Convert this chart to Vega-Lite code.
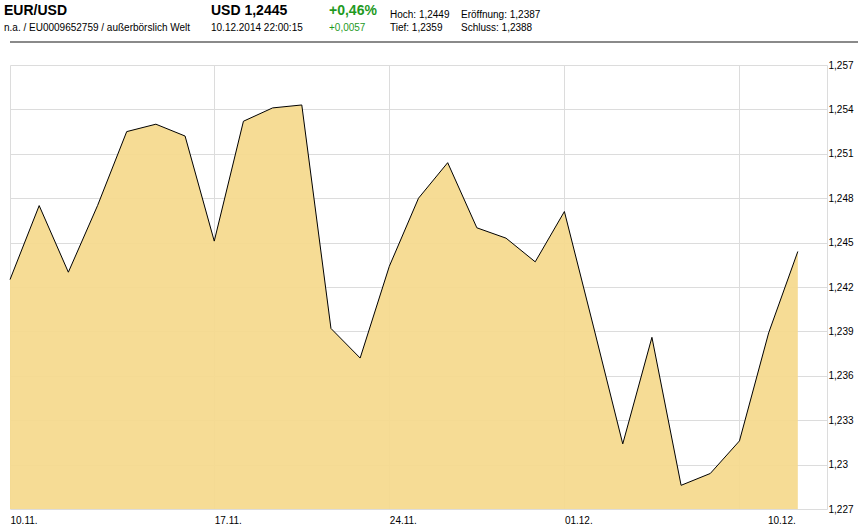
{
  "$schema": "https://vega.github.io/schema/vega-lite/v6.json",
  "padding": {"left": 4, "top": 4, "right": 0, "bottom": 0},
  "background": "white",
  "bounds": "flush",
  "spacing": 24,
  "config": {
    "font": "Liberation Sans",
    "view": {"stroke": null},
    "title": {"anchor": "start", "frame": "group", "orient": "top", "offset": 8, "fontSize": 14, "fontWeight": "bold", "color": "#000000", "subtitleFontSize": 10, "subtitleColor": "#000000", "subtitlePadding": 5, "subtitleFont": "Liberation Sans", "font": "Liberation Sans"}
  },
  "vconcat": [
    {
      "spacing": 0,
      "bounds": "flush",
      "hconcat": [
        {"width": 201, "height": 2, "view": {"fill": "#8a8a8a"}, "data": {"values": []}, "mark": "text", "title": {"text": "EUR/USD", "subtitle": "n.a. / EU0009652759 / außerbörslich Welt", "dx": -6}},
        {"width": 118, "height": 2, "view": {"fill": "#8a8a8a"}, "data": {"values": []}, "mark": "text", "title": {"text": "USD 1,2445", "subtitle": "10.12.2014 22:00:15"}},
        {"width": 61, "height": 2, "view": {"fill": "#8a8a8a"}, "data": {"values": []}, "mark": "text", "title": {"text": "+0,46%", "subtitle": "+0,0057", "color": "#1f9a1f", "subtitleColor": "#1f9a1f"}},
        {"width": 71, "height": 2, "view": {"fill": "#8a8a8a"}, "data": {"values": []}, "mark": "text", "title": {"text": "Hoch: 1,2449", "subtitle": "Tief: 1,2359", "fontSize": 10, "fontWeight": "normal", "subtitlePadding": 3}},
        {"width": 397, "height": 2, "view": {"fill": "#8a8a8a"}, "data": {"values": []}, "mark": "text", "title": {"text": "Eröffnung: 1,2387", "subtitle": "Schluss: 1,2388", "fontSize": 10, "fontWeight": "normal", "subtitlePadding": 3}}
      ]
    },
    {
      "width": 817,
      "height": 444,
      "data": {"values": [
        {"i": 0, "close": 1.2425},
        {"i": 1, "close": 1.2475},
        {"i": 2, "close": 1.2430},
        {"i": 3, "close": 1.2475},
        {"i": 4, "close": 1.2525},
        {"i": 5, "close": 1.2530},
        {"i": 6, "close": 1.2522},
        {"i": 7, "close": 1.2451},
        {"i": 8, "close": 1.2532},
        {"i": 9, "close": 1.2541},
        {"i": 10, "close": 1.2543},
        {"i": 11, "close": 1.2392},
        {"i": 12, "close": 1.2372},
        {"i": 13, "close": 1.2434},
        {"i": 14, "close": 1.2480},
        {"i": 15, "close": 1.2504},
        {"i": 16, "close": 1.2460},
        {"i": 17, "close": 1.2453},
        {"i": 18, "close": 1.2437},
        {"i": 19, "close": 1.2471},
        {"i": 20, "close": 1.2393},
        {"i": 21, "close": 1.2314},
        {"i": 22, "close": 1.2386},
        {"i": 23, "close": 1.2286},
        {"i": 24, "close": 1.2294},
        {"i": 25, "close": 1.2316},
        {"i": 26, "close": 1.2389},
        {"i": 27, "close": 1.2444}
      ]},
      "mark": {"type": "area", "color": "#f5d98c", "fillOpacity": 0.92, "line": {"color": "#000000", "strokeWidth": 1}},
      "encoding": {
        "x": {
          "field": "i", "type": "quantitative",
          "scale": {"domain": [0, 28], "nice": false, "zero": false},
          "axis": {
            "title": null, "values": [0, 7, 13, 19, 25, 28],
            "labelExpr": "datum.value == 0 ? '10.11.' : datum.value == 7 ? '17.11.' : datum.value == 13 ? '24.11.' : datum.value == 19 ? '01.12.' : datum.value == 25 ? '10.12.' : ''",
            "labelAlign": "left", "labelOffset": {"condition": {"test": "datum.value == 25", "value": 28}, "value": 0},
            "labelFontSize": 10, "labelColor": "#000000", "labelPadding": 6, "labelFlush": false, "labelOverlap": false,
            "domain": false, "ticks": false, "grid": true, "gridColor": "#dcdcdc"
          }
        },
        "y": {
          "field": "close", "type": "quantitative",
          "scale": {"domain": [1.227, 1.257], "nice": false, "zero": false},
          "axis": {
            "title": null, "orient": "right",
            "values": [1.227, 1.23, 1.233, 1.236, 1.239, 1.242, 1.245, 1.248, 1.251, 1.254, 1.257],
            "labelExpr": "replace(format(datum.value, '.3~f'), '.', ',')",
            "labelFontSize": 10, "labelColor": "#000000", "labelPadding": 1, "labelFlush": false, "labelOverlap": false,
            "domain": false, "ticks": false, "grid": true, "gridColor": "#dcdcdc"
          }
        },
        "y2": {"datum": 1.227}
      }
    }
  ]
}
